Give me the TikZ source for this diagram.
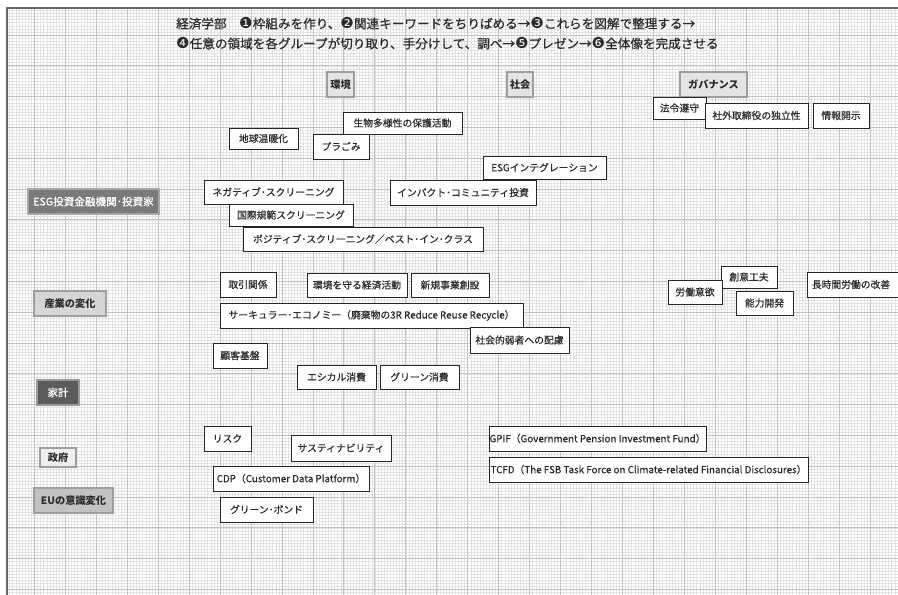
\documentclass[tikz,border=0pt]{standalone}
\usepackage{fontspec}
\setmainfont{Noto Sans CJK JP}
\newfontfamily\djv[Scale=1.2]{DejaVu Sans}
\newfontfamily\med[FakeBold=0.5]{Noto Sans CJK JP}
\definecolor{txt}{HTML}{2A2A2A}
\definecolor{catA}{HTML}{E4E4E4}
\definecolor{catB}{HTML}{7A7A7A}
\definecolor{catC}{HTML}{D6D6D6}
\definecolor{catD}{HTML}{5C5C5C}
\definecolor{catE}{HTML}{EFEFEF}
\definecolor{catF}{HTML}{C2C2C2}
\definecolor{catline}{HTML}{9E9E9E}
\newcommand\bx[7][wbox]{%
  \pgfmathsetmacro\cx{(#3+#5)/2}\pgfmathsetmacro\cy{(#4+#6)/2}%
  \pgfmathsetmacro\ww{#5-#3}\pgfmathsetmacro\hh{#6-#4}%
  \node[#1, minimum width=\ww pt, minimum height=\hh pt] (#2) at (\cx,\cy) {#7};}
\tikzset{
  wbox/.style={draw=black!85, line width=0.9pt, fill=white, inner sep=0pt, text=txt, font=\med\fontsize{9.8}{11}\selectfont},
  cat/.style={draw=catline, line width=1.8pt, inner sep=0pt, text=txt, font=\fontsize{10.2}{12}\selectfont\bfseries},
  minor/.style={draw=black!11, line width=0.5pt},
  major/.style={draw=black!24, line width=0.9pt}
}
\begin{document}
\begin{tikzpicture}[x=1pt,y=-1pt]
\useasboundingbox (0,0) rectangle (898,595);
% grid
\begin{scope}
\clip (6,7) rectangle (898,595);
\fill[white] (6,7) rectangle (898,595);
\foreach \i in {1,...,290} \draw[minor] ({3.45+3.095*\i},7) -- (3.45+3.095*\i,595);
\foreach \j in {1,...,192} \draw[minor] (6,{4.2+3.08*\j}) -- (898,{4.2+3.08*\j});
\foreach \k in {0,...,28} \draw[major] ({34.4+30.95*\k},7) -- ({34.4+30.95*\k},595);
\foreach \k in {0,...,18} \draw[major] (6,{35+30.8*\k}) -- (898,{35+30.8*\k});
\end{scope}
\draw[black!60, line width=1.6pt] (6.8,595) -- (6.8,7.8) -- (898,7.8);
% header
\node[anchor=north west, inner sep=0pt, text=txt, font=\med\fontsize{12.6}{20}\selectfont, align=left] (title) at (176,17)
 {経済学部　{\djv ❶}枠組みを作り、{\djv ❷}関連キーワードをちりばめる→{\djv ❸}これらを図解で整理する→\\
  {\djv ❹}任意の領域を各グループが切り取り、手分けして、調べ→{\djv ❺}プレゼン→{\djv ❻}全体像を完成させる};
% category boxes
\bx[cat, fill=catA]{kankyo}{327}{72}{354}{97}{環境}
\bx[cat, fill=catA]{shakai}{507}{72}{533}{97}{社会}
\bx[cat, fill=catA]{gov}{680}{72}{747}{97}{ガバナンス}
\bx[cat, fill=catB, draw=black!35, text=white, font=\med\fontsize{10.6}{12}\selectfont]{esg}{28}{189}{159}{214}{ESG投資金融機関･投資家}
\bx[cat, fill=catC]{sangyo}{34}{291}{106}{316}{産業の変化}
\bx[cat, fill=catD, draw=black!40, text=white, font=\med\fontsize{10.4}{12}\selectfont]{kakei}{37}{380}{79}{405}{家計}
\bx[cat, fill=catE]{seifu}{40}{448}{76}{467}{政府}
\bx[cat, fill=catF]{eu}{34}{488}{113}{513}{EUの意識変化}
% white boxes
\bx{ondanka}{229}{128}{298}{149}{地球温暖化}
\bx{seibutsu}{343}{112}{462}{134}{生物多様性の保護活動}
\bx{puragomi}{313}{134}{369}{159}{プラごみ}
\bx{esgint}{483}{156}{606}{179}{ESGインテグレーション}
\bx{negative}{204}{180}{343}{204}{ネガティブ･スクリーニング}
\bx{impact}{390}{180}{536}{205}{インパクト･コミュニティ投資}
\bx{kokusai}{229}{204}{353}{226}{国際規範スクリーニング}
\bx{positive}{243}{227}{483}{251}{ポジティブ･スクリーニング／ベスト･イン･クラス}
\bx{horei}{653}{97}{706}{119}{法令遵守}
\bx{shagai}{705}{103}{808}{128}{社外取締役の独立性}
\bx{joho}{813}{103}{869}{128}{情報開示}
\bx{torihiki}{220}{272}{276}{297}{取引関係}
\bx{mamoru}{307}{273}{407}{297}{環境を守る経済活動}
\bx{shinki}{411}{273}{489}{297}{新規事業創設}
\bx{circular}{220}{303}{523}{328}{サーキュラー･エコノミー（廃棄物の3R Reduce Reuse Recycle）}
\bx{jakusha}{470}{327}{569}{353}{社会的弱者への配慮}
\bx{kokyaku}{213}{343}{267}{368}{顧客基盤}
\bx{ethical}{297}{365}{376}{389}{エシカル消費}
\bx{green}{380}{365}{459}{389}{グリーン消費}
\bx{soi}{721}{266}{777}{288}{創意工夫}
\bx{rodo}{668}{280}{722}{304}{労働意欲}
\bx{noryoku}{736}{291}{793}{315}{能力開発}
\bx{choji}{807}{272}{903}{297}{\hspace*{-8pt}長時間労働の改善}
\bx{risk}{204}{426}{251}{451}{リスク}
\bx{sustain}{291}{435}{391}{461}{サスティナビリティ}
\bx{cdp}{213}{466}{369}{491}{CDP（Customer Data Platform）}
\bx{bond}{220}{497}{313}{522}{グリーン･ボンド}
\bx{gpif}{489}{426}{706}{451}{GPIF（Government Pension Investment Fund）}
\bx{tcfd}{489}{457}{808}{482}{TCFD（The FSB Task Force on Climate-related Financial Disclosures）}
\end{tikzpicture}
\end{document}
